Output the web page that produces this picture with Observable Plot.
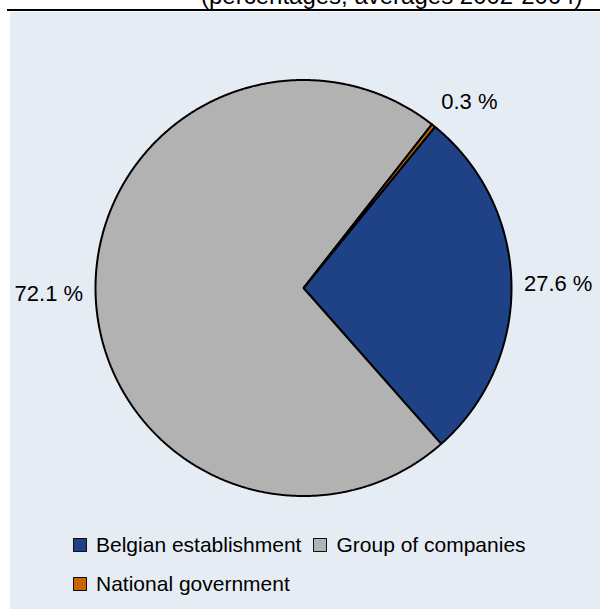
<!DOCTYPE html>
<html><head><meta charset="utf-8">
<script src="https://cdn.jsdelivr.net/npm/d3@7"></script>
<script src="https://cdn.jsdelivr.net/npm/@observablehq/plot@0.6"></script>
<style>
body{margin:0;background:#fff;font-family:"Liberation Sans",Arial,sans-serif;}
#wrap{position:relative;width:600px;height:609px;overflow:hidden;}
#title{position:absolute;left:201px;top:-16px;font-size:24px;line-height:24px;white-space:nowrap;color:#000;}
#rule{position:absolute;left:7px;top:9px;width:593px;height:2px;background:#000;}
#panel{position:absolute;left:10px;top:12px;width:590px;height:597px;background:#e6ecf4;}
#legend{padding-left:63px;width:480px;display:flex;flex-wrap:wrap;font-size:21px;color:#000;}
.item{display:flex;align-items:center;height:39px;margin-right:12px;}
.sw{width:12px;height:12px;border:1.5px solid #111;margin-right:9px;}
</style></head>
<body>
<div id="wrap">
  <div id="title">(percentages, averages 2002-2004)</div>
  <div id="rule"></div>
  <div id="panel"><div id="chart"></div><div id="legend"></div></div>
</div>
<script>
const categories = ["Belgian establishment", "Group of companies", "National government"];
const values = [27.6, 72.1, 0.3];
const labels = ["27.6 %", "72.1 %", "0.3 %"];
const colors = ["#1f4287", "#b2b2b2", "#c86400"];

const W = 590, H = 513, cx = 293, cy = 275.5, R = 208;
const startDeg = 39.2;

const arcs = d3.pie().sort(null).value(d => d.value)
  .startAngle(startDeg * Math.PI / 180)
  .endAngle(startDeg * Math.PI / 180 + 2 * Math.PI)(
    categories.map((c, i) => ({key: c, value: values[i], label: labels[i]}))
  );

const pts = [];
for (const a of arcs) {
  const k = a.data.key;
  pts.push({key: k, x: 0, y: 0});
  const n = Math.max(2, Math.ceil((a.endAngle - a.startAngle) / 0.005));
  for (let j = 0; j <= n; j++) {
    const t = a.startAngle + (a.endAngle - a.startAngle) * j / n;
    pts.push({key: k, x: Math.sin(t), y: Math.cos(t)});
  }
}

const lab = arcs.map(a => {
  const m = (a.startAngle + a.endAngle) / 2, r = 1.06;
  const s = Math.sin(m), c = Math.cos(m);
  return {
    label: a.data.label, x: r * s, y: r * c,
    h: s > 0.3 ? "start" : s < -0.3 ? "end" : "middle",
    v: c > 0.3 ? "bottom" : c < -0.3 ? "top" : "middle"
  };
});
const groups = d3.groups(lab, d => d.h + "|" + d.v);

const chart = Plot.plot({
  width: W, height: H, margin: 0,
  x: {domain: [-cx / R, (W - cx) / R], range: [0, W]},
  y: {domain: [-(H - cy) / R, cy / R], range: [H, 0]},
  axis: null,
  color: {domain: categories, range: colors},
  style: {background: "transparent", fontFamily: "'Liberation Sans', Arial, sans-serif", overflow: "visible"},
  marks: [
    Plot.line(pts, {x: "x", y: "y", z: "key", fill: "key", stroke: "black", strokeWidth: 2, curve: "linear-closed", strokeLinejoin: "miter"}),
    ...groups.map(([g, rows]) => Plot.text(rows, {
      x: "x", y: "y", text: "label", fontSize: 22, fill: "black",
      textAnchor: rows[0].h, lineAnchor: rows[0].v,
      dy: rows[0].v === "bottom" ? -7 : rows[0].v === "top" ? 7 : 0
    }))
  ]
});
document.getElementById("chart").appendChild(chart);

const leg = document.getElementById("legend");
categories.forEach((c, i) => {
  const it = document.createElement("div");
  it.className = "item";
  const sw = document.createElement("div");
  sw.className = "sw";
  sw.style.background = colors[i];
  const tx = document.createElement("span");
  tx.textContent = c;
  it.appendChild(sw); it.appendChild(tx);
  leg.appendChild(it);
});
</script>
</body></html>
